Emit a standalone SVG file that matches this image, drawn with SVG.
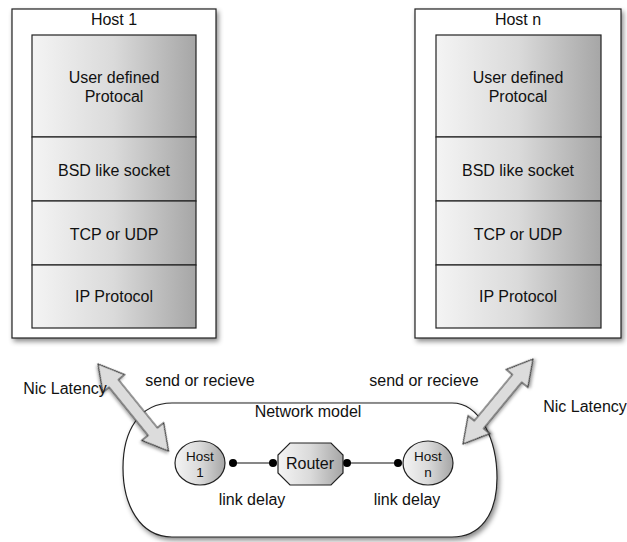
<svg xmlns="http://www.w3.org/2000/svg" width="627" height="542" viewBox="0 0 627 542">
  <defs>
    <linearGradient id="shade" x1="0" y1="0" x2="1" y2="0">
      <stop offset="0" stop-color="#f4f4f4"/>
      <stop offset="0.5" stop-color="#dadada"/>
      <stop offset="1" stop-color="#a6a6a6"/>
    </linearGradient>
    <filter id="shadow" x="-10%" y="-10%" width="130%" height="130%">
      <feDropShadow dx="2" dy="3" stdDeviation="2.5" flood-color="#000" flood-opacity="0.45"/>
    </filter>
    <filter id="softshadow" x="-20%" y="-20%" width="150%" height="150%">
      <feDropShadow dx="1" dy="2" stdDeviation="1.5" flood-color="#000" flood-opacity="0.35"/>
    </filter>
  </defs>
  <style>
    text { font-family: "Liberation Sans", Arial, sans-serif; font-size: 16px; fill: #111; text-anchor: middle; }
    .small { font-size: 13.5px; }
    .frame { fill: #fff; stroke: #222; stroke-width: 1.2; filter: url(#shadow); }
    .layer { fill: url(#shade); stroke: #222; stroke-width: 1.2; }
    .node { fill: url(#shade); stroke: #222; stroke-width: 1.2; }
    .arrow { fill: #dcdcdc; stroke: #333; stroke-width: 1.1; filter: url(#softshadow); }
    .link { stroke: #111; stroke-width: 1.2; fill: none; }
    .dot { fill: #000; }
  </style>

  <rect width="627" height="542" fill="#fff"/>

  <!-- Host 1 protocol stack -->
  <g id="host1">
    <rect class="frame" x="12" y="9" width="204" height="329"/>
    <text x="114" y="25">Host 1</text>
    <rect class="layer" x="32" y="35" width="164" height="102"/>
    <text x="114" y="83">User defined</text>
    <text x="114" y="102">Protocal</text>
    <rect class="layer" x="32" y="137" width="164" height="64"/>
    <text x="114" y="176">BSD like socket</text>
    <rect class="layer" x="32" y="201" width="164" height="64"/>
    <text x="114" y="240">TCP or UDP</text>
    <rect class="layer" x="32" y="265" width="164" height="63"/>
    <text x="114" y="302">IP Protocol</text>
  </g>

  <!-- Host n protocol stack -->
  <g id="hostn">
    <rect class="frame" x="415" y="9" width="206" height="329"/>
    <text x="518" y="25">Host n</text>
    <rect class="layer" x="436" y="35" width="165" height="102"/>
    <text x="518" y="83">User defined</text>
    <text x="518" y="102">Protocal</text>
    <rect class="layer" x="436" y="137" width="165" height="64"/>
    <text x="518" y="176">BSD like socket</text>
    <rect class="layer" x="436" y="201" width="165" height="64"/>
    <text x="518" y="240">TCP or UDP</text>
    <rect class="layer" x="436" y="265" width="165" height="63"/>
    <text x="518" y="302">IP Protocol</text>
  </g>

  <!-- Network model container -->
  <g id="network-model">
    <path class="frame" d="M172,403 H452 C480,403 497,440 497,478 C497,515 480,537 452,537 H172 C140,537 123,505 123,468 C123,430 140,403 172,403 Z"/>
    <text x="308" y="417">Network model</text>
  </g>

  <!-- Connectors -->
  <g id="connectors">
    <!-- send / receive double arrows -->
    <polygon class="arrow" transform="translate(98,364) rotate(51)"
             points="0,0 25,-14 25,-6 87,-6 87,-14 112,0 87,14 87,6 25,6 25,14"/>
    <polygon class="arrow" transform="translate(463,444) rotate(-50.5)"
             points="0,0 25,-14 25,-6 85,-6 85,-14 110,0 85,14 85,6 25,6 25,14"/>
    <!-- links -->
    <line class="link" x1="233" y1="463" x2="273" y2="463"/>
    <line class="link" x1="347" y1="463" x2="398" y2="463"/>
    <circle class="dot" cx="233" cy="463" r="4"/>
    <circle class="dot" cx="273" cy="463" r="4"/>
    <circle class="dot" cx="347" cy="463" r="4"/>
    <circle class="dot" cx="398" cy="463" r="4"/>
  </g>

  <!-- Network nodes -->
  <g id="net-host1">
    <ellipse class="node" cx="200" cy="463" rx="25" ry="22"/>
    <text class="small" x="200" y="461">Host</text>
    <text class="small" x="200" y="477">1</text>
  </g>
  <g id="router">
    <polygon class="node" points="290,443 331,443 343,455 343,473 331,485 290,485 278,473 278,455"/>
    <text x="310" y="469">Router</text>
  </g>
  <g id="net-hostn">
    <ellipse class="node" cx="428" cy="463" rx="25" ry="22"/>
    <text class="small" x="428" y="461">Host</text>
    <text class="small" x="428" y="477">n</text>
  </g>

  <!-- Labels -->
  <g id="labels">
    <text x="200" y="386">send or recieve</text>
    <text x="424" y="386">send or recieve</text>
    <text x="65" y="394">Nic Latency</text>
    <text x="585" y="412">Nic Latency</text>
    <text x="252" y="505">link delay</text>
    <text x="407" y="505">link delay</text>
  </g>
</svg>
